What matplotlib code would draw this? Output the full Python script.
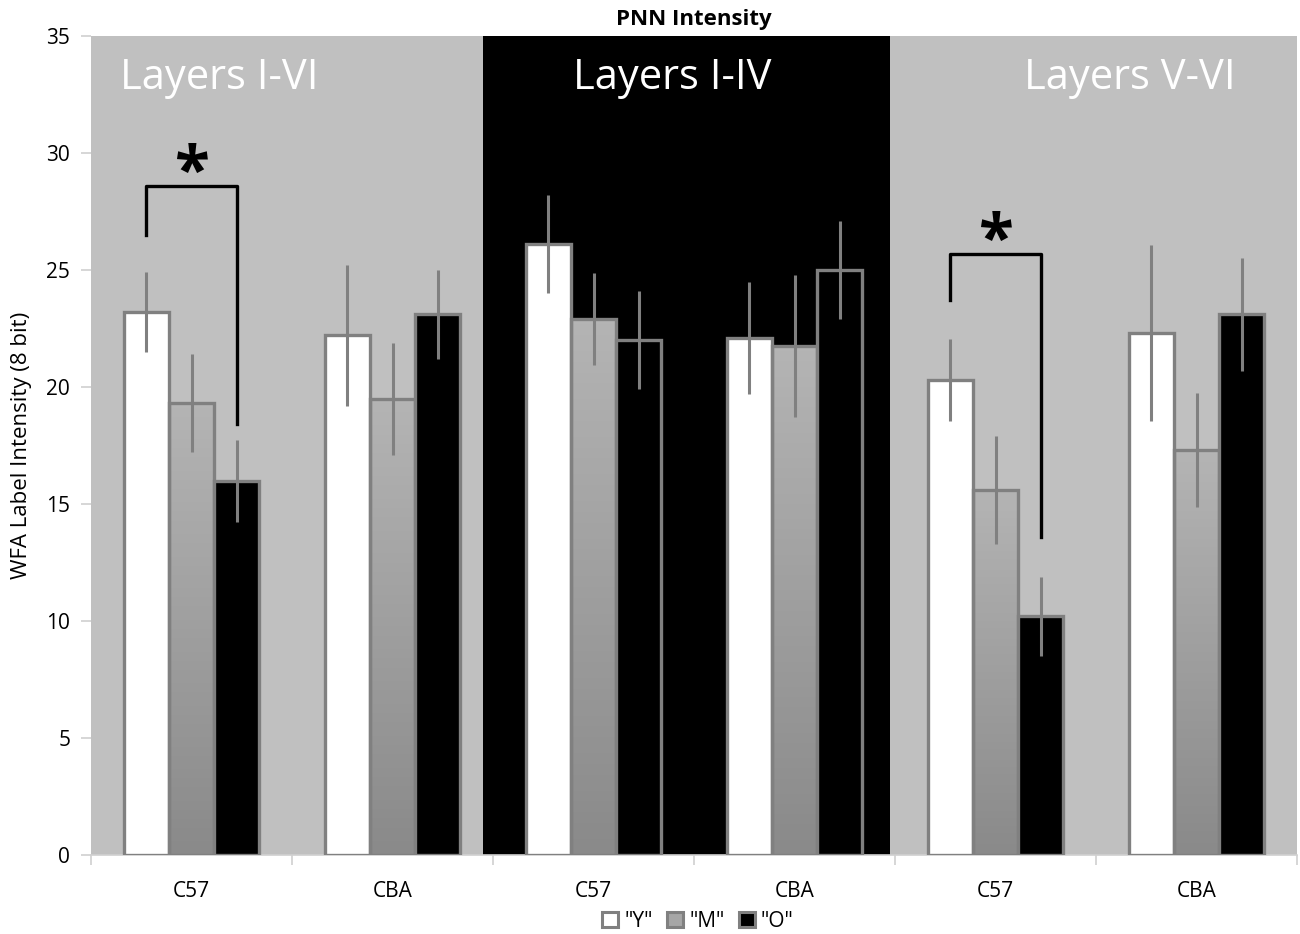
import matplotlib.pyplot as plt
import numpy as np
from matplotlib.colors import LinearSegmentedColormap
from matplotlib.patches import Patch

plt.rcParams['font.family'] = ['Open Sans', 'DejaVu Sans']

# data
groups = ['C57', 'CBA', 'C57', 'CBA', 'C57', 'CBA']
series = ['"Y"', '"M"', '"O"']
y_vals = [23.2, 22.2, 26.1, 22.1, 20.3, 22.3]
m_vals = [19.3, 19.5, 22.9, 21.75, 15.6, 17.3]
o_vals = [16.0, 23.1, 22.0, 25.0, 10.2, 23.1]
y_err = [1.7, 3.0, 2.1, 2.4, 1.75, 3.75]
m_err = [2.1, 2.4, 1.95, 3.05, 2.3, 2.45]
o_err = [1.75, 1.9, 2.1, 2.1, 1.7, 2.4]
panels = ['Layers I-VI', 'Layers I-IV', 'Layers V-VI']
panel_colors = ['#c0c0c0', '#000000', '#c0c0c0']
panel_edges = [-0.5, 1.45, 3.475, 5.5]
# significance brackets: (group, left top, bracket height, right bottom)
sig = [(0, 26.5, 28.6, 18.4), (4, 23.7, 25.7, 13.6)]

fig = plt.figure(figsize=(13, 9.34), dpi=100)
ax = fig.add_axes([0.07, 0.0846, 0.9277, 0.8769])

x = np.arange(len(groups))
w = 0.224
edge = '#808080'

# background panels
for i, c in enumerate(panel_colors):
    ax.axvspan(panel_edges[i], panel_edges[i + 1], color=c, zorder=0, lw=0)
tx = [0.14, 2.39, 4.67]
for t, lab in zip(tx, panels):
    ax.text(t, 33.2, lab, color='white', fontsize=30, ha='center', va='center', zorder=1)

grad = LinearSegmentedColormap.from_list('g', ['#8a8a8a', '#b4b4b4'])
for vals, errs, off, kind in [(y_vals, y_err, -w, 'Y'), (m_vals, m_err, 0, 'M'), (o_vals, o_err, w, 'O')]:
    fc = {'Y': 'white', 'M': 'none', 'O': 'black'}[kind]
    bars = ax.bar(x + off, vals, w, color=fc, edgecolor=edge, linewidth=2.4, zorder=3)
    if kind == 'M':
        for b in bars:
            x0, h = b.get_x(), b.get_height()
            im = ax.imshow(np.linspace(1, 0, 100).reshape(-1, 1), cmap=grad, aspect='auto',
                           extent=[x0, x0 + w, 0, h], zorder=2)
            im.set_clip_path(b)
    ax.errorbar(x + off, vals, yerr=errs, fmt='none', ecolor=edge, elinewidth=2.2, capsize=0, zorder=4)

for g, lt, top, rb in sig:
    xl, xr = x[g] - w, x[g] + w
    ax.plot([xl, xl, xr, xr], [lt, top, top, rb], color='black', lw=2.4, zorder=5)
    ax.text(x[g], top - 0.95, '*', fontsize=46, fontweight='bold', ha='center', va='bottom', zorder=5)

ax.set_xlim(-0.5, 5.5)
ax.set_ylim(0, 35)
ax.set_yticks(range(0, 36, 5))
ax.set_xticks(x)
ax.set_xticklabels(groups, fontsize=15)
ax.set_xticks(np.arange(-0.5, 6, 1), minor=True)
ax.tick_params(axis='x', which='major', length=0, pad=19)
ax.tick_params(axis='x', which='minor', length=7, color='#d0d0d0', width=1.2)
ax.tick_params(axis='y', length=7, color='#d0d0d0', width=1.2, labelsize=15, pad=8)
for s in ['top', 'right', 'left']:
    ax.spines[s].set_visible(False)
ax.spines['bottom'].set_color('#d0d0d0')
ax.spines['bottom'].set_linewidth(1.2)
ax.set_ylabel('WFA Label Intensity (8 bit)', fontsize=16, labelpad=10)
ax.set_title('PNN Intensity', fontsize=16, fontweight='bold', pad=8)

handles = [Patch(facecolor='white', edgecolor=edge, lw=2.2),
           Patch(facecolor='#a6a6a6', edgecolor=edge, lw=2.2),
           Patch(facecolor='black', edgecolor=edge, lw=2.2)]
fig.legend(handles, series, loc='lower center', ncol=3, frameon=False, fontsize=15,
           bbox_to_anchor=(0.537, -0.018), handlelength=0.75, handleheight=0.75,
           columnspacing=0.7, handletextpad=0.3)

fig.savefig('out.png', dpi=100)
